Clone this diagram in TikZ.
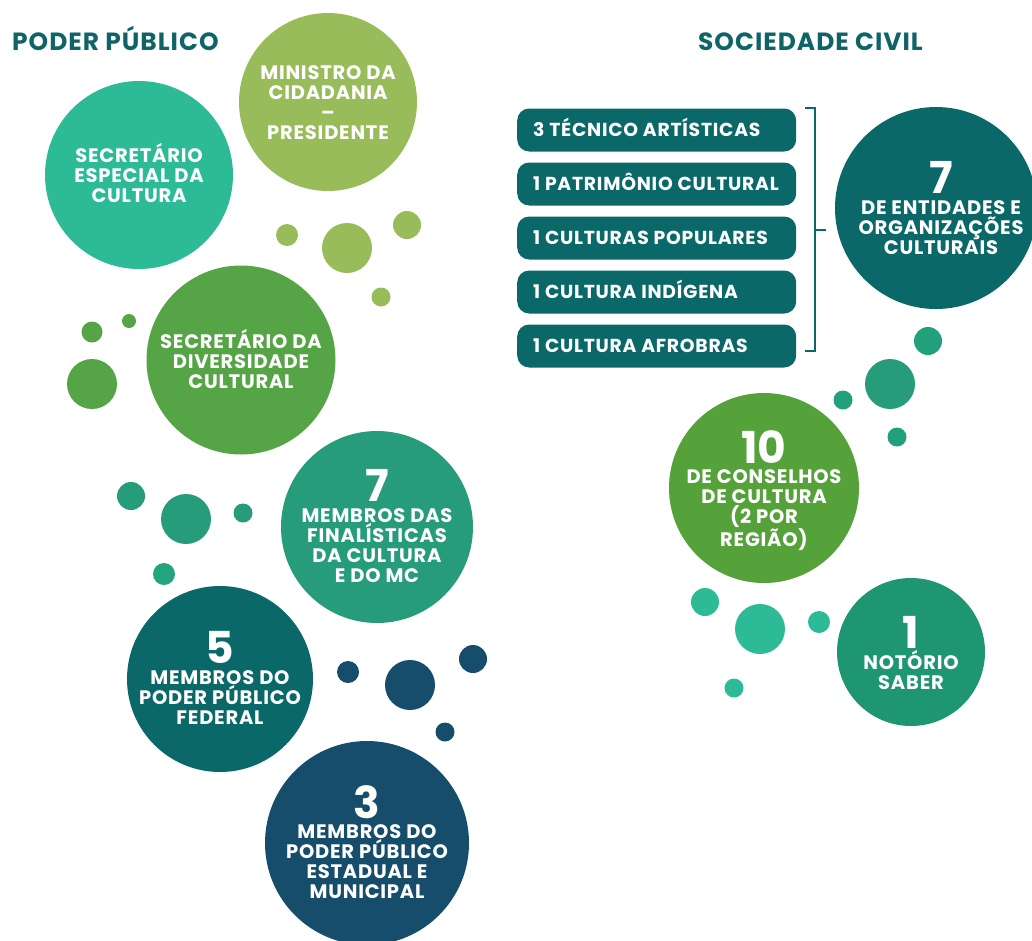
\documentclass[tikz,border=0pt]{standalone}
\usepackage{fontspec}
\setmainfont{Poppins}
\newfontfamily\lsfont[LetterSpace=4]{Poppins}
\definecolor{cMin}{HTML}{98BC5A}
\definecolor{cSec}{HTML}{2DBB97}
\definecolor{cDiv}{HTML}{55A547}
\definecolor{cFin}{HTML}{269C7A}
\definecolor{cFed}{HTML}{0A6868}
\definecolor{cEst}{HTML}{164D6B}
\definecolor{cHead}{HTML}{0E6466}
\definecolor{cDez}{HTML}{55A23B}
\definecolor{cNot}{HTML}{1F9672}
\definecolor{cDotR}{HTML}{22A07C}
\definecolor{cDotL}{HTML}{22A57E}
\begin{document}
\begin{tikzpicture}[x=1pt,y=-1pt,
  bub/.style={circle,inner sep=0pt,minimum size=#1},
  dot/.style={circle,inner sep=0pt,minimum size=#1},
  txt/.style={text=white,align=center,inner sep=0pt,font=\lsfont\bfseries\fontsize{19.5}{20}\selectfont},
  num/.style={text=white,anchor=base,inner sep=0pt,text height=30pt,text depth=0pt,font=\bfseries\fontsize{44}{44}\selectfont},
  box/.style={fill=cFed,rounded corners=12pt,minimum width=279pt,minimum height=43pt,inner sep=0pt,anchor=west},
  boxtxt/.style={text=white,anchor=base west,inner sep=0pt,font=\lsfont\bfseries\fontsize{18.8}{20}\selectfont},
  head/.style={text=cHead,anchor=base west,inner sep=0pt,font=\lsfont\bfseries\fontsize{24.9}{26}\selectfont},
  brk/.style={draw=cFed,line width=1.3pt}]
\useasboundingbox (0,0) rectangle (1032,940);
% headings
\node[head] (hpp) at (12,50) {PODER PÚBLICO};
\node[head] (hsc) at (698,50) {SOCIEDADE CIVIL};
% poder publico circles
\node[bub=178pt,fill=cMin] (min) at (328,102) {};
\node[txt] (tmin) at (328,103) {MINISTRO DA\\CIDADANIA\\–\\PRESIDENTE};
\node[bub=188pt,fill=cSec] (sec) at (139,175) {};
\node[txt] (tsec) at (139,173.5) {SECRETÁRIO\\ESPECIAL DA\\CULTURA};
\node[bub=189pt,fill=cDiv] (div) at (241,360) {};
\node[txt] (tdiv) at (241,359) {SECRETÁRIO DA\\DIVERSIDADE\\CULTURAL};
\node[bub=192pt,fill=cFin] (fin) at (377,527) {};
\node[num] (nfin) at (377,501) {7};
\node[txt] (tfin) at (377,545.5) {MEMBROS DAS\\FINALÍSTICAS\\DA CULTURA\\E DO MC};
\node[bub=186pt,fill=cFed] (fed) at (220,679) {};
\node[num] (nfed) at (220,663) {5};
\node[txt] (tfed) at (220,698) {MEMBROS DO\\PODER PÚBLICO\\FEDERAL};
\node[bub=204pt,fill=cEst] (est) at (367,843) {};
\node[num] (nest) at (367,818) {3};
\node[txt] (test) at (367,862) {MEMBROS DO\\PODER PÚBLICO\\ESTADUAL E\\MUNICIPAL};
% dots left
\node[dot=22pt,fill=cMin] (d1) at (287,235) {};
\node[dot=50pt,fill=cMin] (d2) at (347,248) {};
\node[dot=28pt,fill=cMin] (d3) at (407,225) {};
\node[dot=19pt,fill=cMin] (d4) at (381,297) {};
\node[dot=21pt,fill=cDiv] (d5) at (92,332) {};
\node[dot=14pt,fill=cDiv] (d6) at (129,321) {};
\node[dot=50pt,fill=cDiv] (d7) at (92,384) {};
\node[dot=28pt,fill=cFin] (d8) at (131,496) {};
\node[dot=50pt,fill=cFin] (d9) at (186,519) {};
\node[dot=19pt,fill=cFin] (d10) at (243,513) {};
\node[dot=22pt,fill=cDotL] (d11) at (164,574) {};
\node[dot=22pt,fill=cEst] (d12) at (348,672) {};
\node[dot=50pt,fill=cEst] (d13) at (410,685) {};
\node[dot=28pt,fill=cEst] (d14) at (473,659) {};
\node[dot=19pt,fill=cEst] (d15) at (445,732) {};
% sociedade civil boxes
\node[box] (b1) at (517,130) {};
\node[boxtxt] (tb1) at (533,136.5) {3 TÉCNICO ARTÍSTICAS};
\node[box] (b2) at (517,184) {};
\node[boxtxt] (tb2) at (533,190.5) {1 PATRIMÔNIO CULTURAL};
\node[box] (b3) at (517,238) {};
\node[boxtxt] (tb3) at (533,244.5) {1 CULTURAS POPULARES};
\node[box] (b4) at (517,292) {};
\node[boxtxt] (tb4) at (533,298.5) {1 CULTURA INDÍGENA};
\node[box] (b5) at (517,346) {};
\node[boxtxt] (tb5) at (533,352.5) {1 CULTURA AFROBRAS};
% bracket
\coordinate (bt0) at (805,108);
\coordinate (bt1) at (815,108);
\coordinate (bb1) at (815,351);
\coordinate (bb0) at (805,351);
\coordinate (bm0) at (815,230);
\coordinate (bm1) at (826,230);
\draw[brk] (bt0) -- (bt1) -- (bb1) -- (bb0);
\draw[brk] (bm0) -- (bm1);
% right circles
\node[bub=202pt,fill=cFed] (ent) at (936,208) {};
\node[num] (nent) at (941,193) {7};
\node[txt] (tent) at (941,228) {DE ENTIDADES E\\ORGANIZAÇÕES\\CULTURAIS};
\node[bub=190pt,fill=cDez] (dez) at (764,488) {};
\node[num] (ndez) at (764,463) {10};
\node[txt] (tdez) at (764,510.5) {DE CONSELHOS\\DE CULTURA\\(2 POR\\REGIÃO)};
\node[bub=148pt,fill=cNot] (nots) at (911,652) {};
\node[num] (nnot) at (911,648) {1};
\node[txt] (tnot) at (911,670) {NOTÓRIO\\SABER};
% dots right
\node[dot=28pt,fill=cDotR] (e1) at (928,341) {};
\node[dot=50pt,fill=cFin] (e2) at (890,384) {};
\node[dot=19pt,fill=cDotR] (e3) at (843,400) {};
\node[dot=19pt,fill=cDotR] (e4) at (897,437) {};
\node[dot=28pt,fill=cSec] (e5) at (705,602) {};
\node[dot=50pt,fill=cSec] (e6) at (760,629) {};
\node[dot=22pt,fill=cSec] (e7) at (819,622) {};
\node[dot=19pt,fill=cSec] (e8) at (734,688) {};
\end{tikzpicture}
\end{document}
